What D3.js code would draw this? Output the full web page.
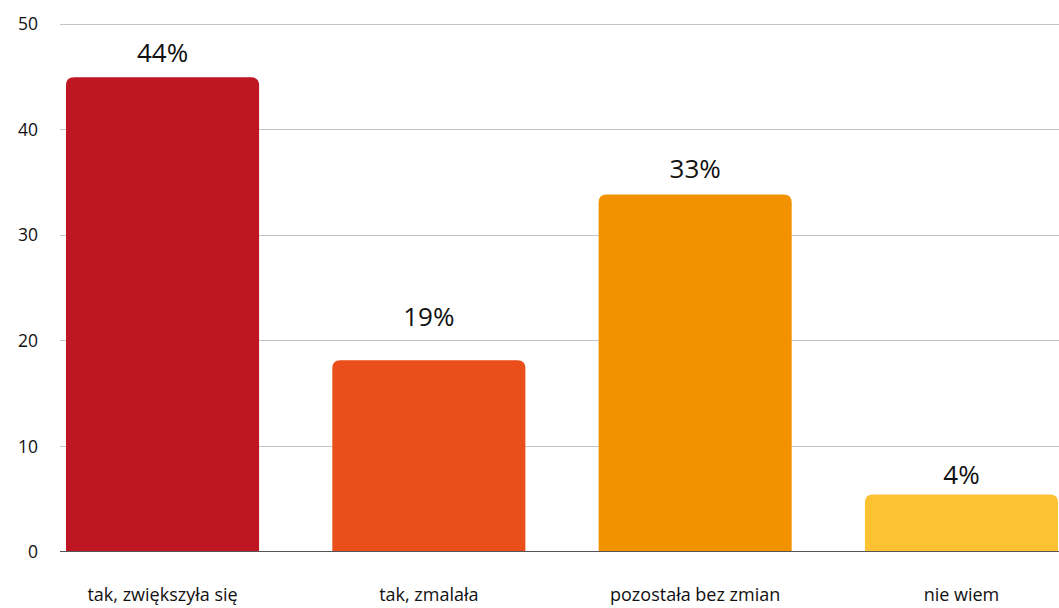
<!DOCTYPE html>
<html><head><meta charset="utf-8">
<script src="https://cdn.jsdelivr.net/npm/d3@7"></script>
<style>html,body{margin:0;padding:0;background:#fff;}svg{display:block;}</style>
</head><body>
<svg id="c" width="1059" height="608"></svg>
<script>
const categories = ["tak, zwiększyła się", "tak, zmalała", "pozostała bez zmian", "nie wiem"];
const values = [44.9, 18.1, 33.8, 5.4];
const percents = [44, 19, 33, 4];
const colors = ["#be1622", "#e94e1b", "#f39200", "#fcc232"];
const yTicks = [0, 10, 20, 30, 40, 50];

const svg = d3.select("#c");
const font = "'Open Sans', 'Noto Sans', sans-serif";
const x = d3.scaleBand().domain(categories).range([66, 1058]).paddingInner(0.275).paddingOuter(0);
const y = d3.scaleLinear().domain([0, 50]).range([551.5, 23.5]);

// grid
svg.append("g").selectAll("line").data(yTicks.filter(d => d > 0)).join("line")
  .attr("x1", 60).attr("x2", 1059)
  .attr("y1", d => Math.round(y(d)) + 0.5).attr("y2", d => Math.round(y(d)) + 0.5)
  .attr("stroke", "#c4c4c4").attr("stroke-width", 1);

// y tick labels
const yAxis = d3.axisLeft(y).tickValues(yTicks).tickSize(0).tickPadding(0);
const ya = svg.append("g").attr("transform", "translate(38,0)").call(yAxis);
ya.select(".domain").remove();
ya.selectAll("text").attr("font-family", font).attr("font-size", 17.5).attr("fill", "#111").attr("dy", "0.35em");

// bars with rounded top corners
const r = 8;
function barPath(d, i) {
  const x0 = x(categories[i]), w = x.bandwidth(), y0 = y(0), y1 = y(d);
  return `M${x0},${y0}V${y1 + r}Q${x0},${y1} ${x0 + r},${y1}H${x0 + w - r}Q${x0 + w},${y1} ${x0 + w},${y1 + r}V${y0}Z`;
}
svg.append("g").selectAll("path").data(values).join("path")
  .attr("d", barPath).attr("fill", (d, i) => colors[i]);

// baseline
svg.append("line").attr("x1", 60).attr("x2", 1059)
  .attr("y1", y(0)).attr("y2", y(0)).attr("stroke", "#555").attr("stroke-width", 1);

// value labels
svg.append("g").selectAll("text").data(percents).join("text")
  .attr("x", (d, i) => x(categories[i]) + x.bandwidth() / 2)
  .attr("y", d => y(d) - 25)
  .attr("text-anchor", "middle").attr("font-family", font).attr("font-size", 26)
  .attr("fill", "#111").text(d => d + "%");

// category labels
const xAxis = d3.axisBottom(x).tickSize(0).tickPadding(0);
const xa = svg.append("g").attr("transform", "translate(0,601)").call(xAxis);
xa.select(".domain").remove();
xa.selectAll("text").attr("font-family", font).attr("font-size", 18).attr("fill", "#111").attr("dy", 0);
</script>
</body></html>
